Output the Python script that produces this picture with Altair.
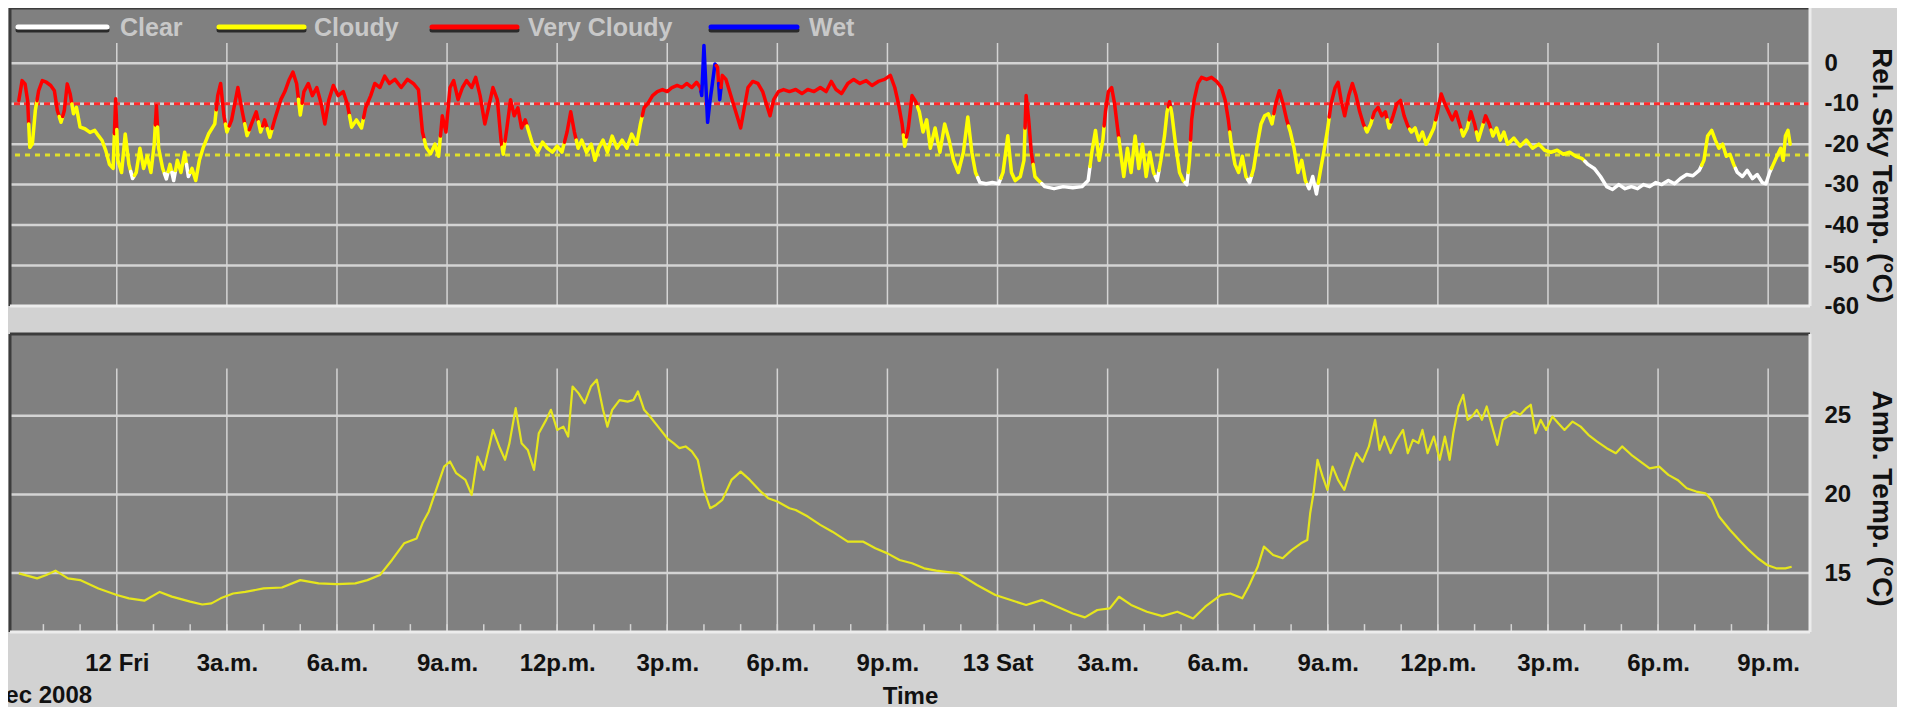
import altair as alt
import pandas as pd

# ---------------- axes, domains, labels ----------------
X_DOMAIN = [-2.91, 46.14]          # hours after 12 Dec 2008 00:00
X_TICKS = list(range(0, 46, 3))
X_TICK_LABELS = ["12 Fri", "3a.m.", "6a.m.", "9a.m.", "12p.m.", "3p.m.", "6p.m.", "9p.m.",
                 "13 Sat", "3a.m.", "6a.m.", "9a.m.", "12p.m.", "3p.m.", "6p.m.", "9p.m."]
MINOR_TICKS = list(range(-2, 46))
MONTH_LABEL = "Dec 2008"
X_TITLE = "Time"

SKY_DOMAIN = [-60, 13.65]
SKY_GRID_TOP = 5
SKY_TICKS = [0, -10, -20, -30, -40, -50, -60]
SKY_GRID = [0, -10, -20, -30, -40, -50]
SKY_TITLE = "Rel. Sky Temp. (°C)"

AMB_DOMAIN = [11.25, 30.2]
AMB_GRID_TOP = 28
AMB_TICKS = [15, 20, 25]
AMB_TITLE = "Amb. Temp. (°C)"

VERY_CLOUDY_LIMIT = -10
CLOUDY_LIMIT = -22.7

STATES = ["Clear", "Cloudy", "Very Cloudy", "Wet"]
STATE_CODES = {"C": "Clear", "Y": "Cloudy", "R": "Very Cloudy", "W": "Wet"}
STATE_COLORS = ["#ffffff", "#ffff00", "#ff0000", "#0000ff"]

# ---------------- sky temperature series ----------------
SKY_HOURS = [
    -2.67, -2.58, -2.50, -2.43, -2.37, -2.30, -2.22, -2.13, -2.03, -1.92,
    -1.80, -1.70, -1.62, -1.52, -1.43, -1.35, -1.27, -1.18, -1.10, -1.00,
    -0.87, -0.73, -0.60, -0.50, -0.40, -0.30, -0.20, -0.10, -0.03, 0.03,
    0.13, 0.23, 0.33, 0.43, 0.53, 0.63, 0.73, 0.83, 0.93, 1.02,
    1.08, 1.14, 1.25, 1.35, 1.45, 1.55, 1.65, 1.75, 1.85, 1.95,
    2.05, 2.15, 2.25, 2.35, 2.50, 2.67, 2.75, 2.83, 2.92, 3.00,
    3.13, 3.30, 3.42, 3.55, 3.67, 3.80, 3.92, 4.03, 4.17, 4.30,
    4.47, 4.58, 4.70, 4.80, 4.90, 5.00, 5.10, 5.22, 5.33, 5.45,
    5.57, 5.67, 5.78, 5.90, 6.03, 6.17, 6.28, 6.40, 6.53, 6.67,
    6.78, 6.92, 7.03, 7.17, 7.30, 7.43, 7.58, 7.75, 7.92, 8.08,
    8.22, 8.33, 8.43, 8.55, 8.67, 8.77, 8.87, 8.97, 9.08, 9.18,
    9.30, 9.42, 9.53, 9.67, 9.78, 9.90, 10.03, 10.13, 10.25, 10.37,
    10.47, 10.53, 10.63, 10.73, 10.83, 10.93, 11.03, 11.13, 11.23, 11.33,
    11.47, 11.60, 11.73, 11.87, 12.00, 12.13, 12.27, 12.37, 12.47, 12.57,
    12.67, 12.80, 12.93, 13.03, 13.13, 13.25, 13.37, 13.50, 13.63, 13.77,
    13.90, 14.03, 14.17, 14.27, 14.37, 14.47, 14.60, 14.73, 14.87, 15.00,
    15.13, 15.27, 15.40, 15.53, 15.67, 15.80, 15.90, 15.94, 16.00, 16.05,
    16.10, 16.17, 16.23, 16.30, 16.37, 16.43, 16.50, 16.60, 16.70, 16.80,
    16.90, 17.00, 17.10, 17.20, 17.33, 17.47, 17.60, 17.70, 17.80, 17.90,
    18.03, 18.17, 18.33, 18.50, 18.67, 18.83, 19.00, 19.17, 19.33, 19.47,
    19.60, 19.75, 19.92, 20.08, 20.25, 20.42, 20.58, 20.75, 20.92, 21.08,
    21.20, 21.30, 21.40, 21.47, 21.57, 21.67, 21.77, 21.87, 21.97, 22.07,
    22.17, 22.30, 22.43, 22.56, 22.68, 22.80, 22.93, 23.07, 23.19, 23.30,
    23.40, 23.52, 23.69, 23.86, 24.03, 24.15, 24.28, 24.38, 24.48, 24.62,
    24.72, 24.78, 24.85, 24.92, 25.02, 25.12, 25.29, 25.54, 25.79, 26.05,
    26.30, 26.47, 26.57, 26.67, 26.77, 26.87, 26.94, 27.02, 27.11, 27.19,
    27.27, 27.34, 27.44, 27.54, 27.64, 27.75, 27.85, 27.95, 28.05, 28.15,
    28.25, 28.35, 28.45, 28.55, 28.62, 28.69, 28.75, 28.85, 28.96, 29.06,
    29.16, 29.23, 29.29, 29.36, 29.46, 29.56, 29.70, 29.83, 29.97, 30.10,
    30.20, 30.29, 30.37, 30.47, 30.57, 30.67, 30.77, 30.87, 30.98, 31.08,
    31.18, 31.28, 31.38, 31.48, 31.58, 31.68, 31.78, 31.88, 31.98, 32.08,
    32.19, 32.29, 32.39, 32.49, 32.59, 32.69, 32.79, 32.89, 32.99, 33.09,
    33.20, 33.28, 33.36, 33.46, 33.57, 33.67, 33.77, 33.87, 33.97, 34.07,
    34.17, 34.27, 34.37, 34.47, 34.57, 34.67, 34.78, 34.88, 34.98, 35.08,
    35.18, 35.28, 35.38, 35.48, 35.58, 35.68, 35.79, 35.89, 35.99, 36.09,
    36.19, 36.29, 36.39, 36.49, 36.59, 36.69, 36.80, 36.90, 37.00, 37.10,
    37.20, 37.30, 37.40, 37.50, 37.60, 37.70, 37.80, 37.90, 38.07, 38.24,
    38.41, 38.58, 38.75, 38.91, 39.08, 39.25, 39.42, 39.59, 39.76, 39.92,
    40.09, 40.26, 40.43, 40.60, 40.76, 40.93, 41.10, 41.27, 41.44, 41.60,
    41.77, 41.94, 42.10, 42.28, 42.45, 42.61, 42.78, 42.95, 43.12, 43.25,
    43.35, 43.46, 43.56, 43.66, 43.76, 43.86, 43.96, 44.06, 44.16, 44.30,
    44.43, 44.57, 44.70, 44.84, 44.94, 45.04, 45.14, 45.24, 45.34, 45.41,
    45.47, 45.54, 45.60,
]
SKY_TEMPS = [
    -9.2, -4.3, -5.1, -9.2, -20.8, -19.9, -11.7, -6.8, -4.3, -4.7,
    -5.5, -6.8, -11.7, -14.6, -11.7, -5.1, -7.6, -12.5, -10.9, -15.8,
    -16.2, -17.1, -16.6, -17.9, -19.1, -21.6, -25.0, -26.0, -8.8, -24.0,
    -27.0, -17.5, -25.0, -28.5, -27.0, -21.0, -26.0, -23.0, -27.0, -20.0,
    -10.5, -21.0, -26.0, -28.6, -25.0, -29.0, -24.0, -27.0, -22.0, -28.0,
    -26.0, -29.0, -24.0, -21.0, -17.5, -15.0, -8.0, -5.0, -13.0, -17.0,
    -14.0, -6.0, -12.0, -17.9, -15.0, -12.0, -17.0, -14.0, -18.3, -14.0,
    -9.0, -7.0, -4.0, -2.2, -5.0, -12.8, -7.0, -5.0, -8.0, -6.0,
    -10.0, -15.0, -9.0, -5.5, -8.0, -7.0, -10.0, -15.8, -14.0, -16.0,
    -11.0, -8.0, -5.0, -6.0, -3.2, -5.0, -4.0, -6.0, -4.0, -5.0,
    -6.5, -17.0, -20.8, -22.4, -20.0, -23.0, -13.0, -17.0, -6.0, -4.3,
    -9.0, -6.0, -4.3, -6.0, -3.5, -8.0, -15.0, -11.0, -6.0, -9.0,
    -19.0, -22.5, -16.0, -9.0, -13.0, -11.0, -16.0, -14.0, -17.0, -20.0,
    -22.0, -19.5, -21.0, -22.0, -20.5, -22.0, -17.0, -12.0, -17.0, -21.0,
    -19.0, -22.0, -20.0, -24.0, -21.0, -19.0, -22.0, -18.0, -21.0, -19.0,
    -21.0, -17.5, -20.0, -15.0, -11.0, -10.0, -8.0, -7.0, -6.5, -7.0,
    -6.0, -5.5, -6.0, -5.0, -6.0, -4.7, -6.0, -8.0, 4.4, -5.0,
    -14.6, -9.0, -5.0, -0.2, -1.0, -9.0, -3.0, -4.0, -7.0, -10.0,
    -13.0, -16.0, -11.0, -6.0, -4.5, -5.0, -7.0, -10.0, -13.0, -9.0,
    -7.0, -6.5, -7.0, -6.5, -7.5, -6.5, -7.0, -6.0, -7.0, -4.5,
    -6.5, -7.5, -5.0, -4.0, -5.0, -4.3, -5.5, -4.5, -4.0, -3.0,
    -6.0, -10.0, -15.0, -20.5, -16.0, -8.0, -9.5, -12.0, -17.0, -14.0,
    -21.0, -16.0, -22.0, -15.0, -19.0, -24.0, -27.0, -22.0, -13.3, -22.0,
    -27.0, -29.5, -29.8, -29.5, -29.8, -27.0, -17.9, -27.0, -29.0, -28.0,
    -24.0, -8.0, -14.0, -22.0, -28.0, -29.0, -30.5, -31.0, -30.5, -30.8,
    -30.5, -29.0, -22.0, -16.6, -24.0, -19.0, -12.0, -7.0, -6.0, -10.0,
    -16.0, -21.0, -28.0, -21.0, -27.0, -18.0, -26.0, -20.0, -28.0, -22.0,
    -27.0, -29.0, -24.0, -18.0, -12.0, -9.5, -12.5, -20.0, -27.0, -29.0,
    -30.0, -24.0, -14.0, -9.0, -5.0, -3.5, -4.0, -3.5, -4.5, -6.0,
    -9.0, -14.0, -20.0, -25.0, -27.0, -23.0, -28.0, -29.5, -26.0, -20.0,
    -15.0, -13.0, -12.5, -15.0, -10.0, -6.8, -10.0, -14.0, -17.0, -21.0,
    -27.0, -24.0, -29.0, -31.0, -28.0, -32.3, -27.0, -22.0, -16.6, -10.0,
    -6.0, -4.7, -9.0, -13.0, -8.0, -5.0, -8.0, -12.0, -15.0, -17.0,
    -15.0, -12.0, -10.9, -13.0, -12.0, -16.0, -13.0, -10.0, -9.2, -13.0,
    -15.5, -17.0, -16.0, -19.0, -17.0, -20.0, -18.0, -16.0, -12.0, -7.6,
    -10.0, -12.0, -14.0, -12.0, -15.0, -18.0, -16.0, -12.0, -15.0, -19.0,
    -16.0, -13.0, -15.0, -18.0, -16.0, -19.0, -17.0, -20.0, -18.5, -20.5,
    -19.0, -21.0, -20.0, -21.5, -22.0, -21.5, -22.5, -22.0, -23.0, -23.5,
    -25.0, -26.0, -28.0, -30.5, -31.2, -30.0, -31.0, -30.5, -31.0, -30.0,
    -30.5, -29.5, -30.0, -29.0, -29.8, -28.5, -27.5, -27.8, -26.5, -24.0,
    -18.0, -16.6, -19.0, -21.0, -20.0, -23.0, -22.5, -25.0, -27.0, -28.0,
    -26.5, -28.5, -27.5, -29.5, -29.8, -27.0, -25.0, -23.0, -21.0, -24.0,
    -18.0, -16.6, -20.0,
]
SKY_STATE = list(
    "RRRRYYYRRR" "RRRYRRRYYY" "YYYYYYYYRY" "YYYCYYYYYY" "RYYCYCYYYC"
    "YYYYYYRRRY" "RRRYRRYRYR" "RRRRRYRRRR" "RRRRRRRYYY" "RRRRRRRRRR"
    "RRYYYYRRRR" "RRRRRRRRRR" "RYRRRRRRYY" "YYYYYYRRRY" "YYYYYYYYYY"
    "YYYYRRRRRR" "RRRRRRRWWW" "WWWWRWRRRR" "RRRRRRRRRR" "RRRRRRRRRR"
    "RRRRRRRRRR" "RRRYRRRYYY" "YYYYYYYYYY" "YCCCCYYYYY" "YRRRYYCCCC"
    "CCYYYYRRRR" "RYYYYYYYYY" "YCYYYRYYYY" "CYRRRRRRRR" "RRYYYYYCYY"
    "YYYYRRRRYY" "YYYCCCYYYR" "RRRRRRRRRY" "YRRRRYRRRR" "RYYYYYYYRR"
    "RRRRRYYRRY" "YRRYYYYYYY" "YYYYYYYYYY" "CCCCCCCCCC" "CCCCCCCCCY"
    "YYYYYYYYCC" "CCCCCCYYYY" "YYY"
)

# ---------------- ambient temperature series ----------------
AMB_HOURS = [
    -2.67, -2.17, -1.92, -1.67, -1.33, -1.00, -0.50, 0.00, 0.33, 0.75,
    1.17, 1.50, 2.00, 2.33, 2.58, 2.83, 3.17, 3.50, 4.00, 4.50,
    5.00, 5.50, 6.00, 6.50, 6.83, 7.17, 7.50, 7.83, 8.17, 8.33,
    8.50, 8.67, 8.92, 9.08, 9.25, 9.50, 9.67, 9.83, 10.00, 10.17,
    10.25, 10.42, 10.58, 10.70, 10.87, 11.03, 11.20, 11.37, 11.50, 11.70,
    11.83, 12.00, 12.17, 12.30, 12.42, 12.58, 12.75, 12.92, 13.08, 13.25,
    13.37, 13.50, 13.70, 13.92, 14.08, 14.20, 14.37, 14.53, 14.75, 15.00,
    15.17, 15.33, 15.50, 15.67, 15.83, 16.00, 16.17, 16.33, 16.50, 16.75,
    17.00, 17.25, 17.50, 17.75, 18.00, 18.33, 18.50, 18.83, 19.17, 19.50,
    19.92, 20.33, 20.67, 21.00, 21.33, 21.67, 22.00, 22.33, 22.93, 23.44,
    23.94, 24.36, 24.78, 25.20, 25.63, 26.05, 26.38, 26.72, 27.06, 27.31,
    27.64, 28.07, 28.49, 28.90, 29.33, 29.66, 30.08, 30.34, 30.67, 30.84,
    31.09, 31.26, 31.51, 31.77, 32.02, 32.27, 32.44, 32.52, 32.61, 32.72,
    32.86, 32.99, 33.13, 33.28, 33.45, 33.62, 33.78, 33.95, 34.12, 34.29,
    34.41, 34.54, 34.71, 34.88, 35.05, 35.18, 35.32, 35.47, 35.58, 35.72,
    35.89, 36.05, 36.19, 36.32, 36.42, 36.56, 36.69, 36.81, 36.93, 37.06,
    37.20, 37.33, 37.48, 37.62, 37.77, 37.90, 38.07, 38.24, 38.41, 38.53,
    38.66, 38.80, 38.95, 39.12, 39.28, 39.45, 39.67, 39.89, 40.10, 40.34,
    40.60, 40.85, 41.02, 41.27, 41.52, 41.77, 42.03, 42.28, 42.53, 42.78,
    43.04, 43.29, 43.46, 43.66, 43.96, 44.21, 44.47, 44.72, 44.97, 45.22,
    45.47, 45.64,
]
AMB_TEMPS = [
    14.98, 14.66, 14.87, 15.15, 14.66, 14.55, 14.02, 13.60, 13.39, 13.24,
    13.80, 13.50, 13.18, 13.00, 13.07, 13.39, 13.70, 13.80, 14.02, 14.08,
    14.55, 14.34, 14.30, 14.34, 14.55, 14.87, 15.83, 16.89, 17.20, 18.16,
    18.90, 20.07, 21.77, 22.09, 21.35, 20.92, 19.97, 22.40, 21.56, 23.26,
    24.10, 23.05, 22.20, 23.26, 25.49, 23.26, 22.83, 21.56, 23.89, 24.74,
    25.38, 24.10, 24.31, 23.68, 26.86, 26.44, 25.80, 26.86, 27.29, 25.38,
    24.31, 25.38, 26.00, 25.90, 26.00, 26.55, 25.38, 24.95, 24.31, 23.57,
    23.26, 22.94, 23.05, 22.73, 22.20, 20.29, 19.12, 19.33, 19.65, 20.92,
    21.45, 20.92, 20.29, 19.76, 19.55, 19.12, 19.01, 18.59, 18.06, 17.63,
    17.00, 17.00, 16.57, 16.25, 15.83, 15.62, 15.30, 15.15, 14.98, 14.24,
    13.60, 13.28, 12.97, 13.28, 12.86, 12.43, 12.18, 12.65, 12.75, 13.49,
    12.97, 12.54, 12.26, 12.54, 12.11, 12.86, 13.60, 13.70, 13.39, 14.13,
    15.40, 16.68, 16.15, 15.94, 16.47, 16.89, 17.10, 18.80, 20.07, 22.20,
    21.13, 20.29, 21.77, 20.92, 20.29, 21.56, 22.62, 22.09, 23.05, 24.74,
    22.83, 23.68, 22.62, 23.47, 24.10, 22.62, 23.47, 23.26, 24.10, 22.62,
    23.68, 22.20, 23.68, 22.20, 23.89, 25.59, 26.33, 24.74, 24.95, 25.38,
    24.74, 25.59, 24.31, 23.15, 24.74, 24.95, 25.27, 25.06, 25.49, 25.70,
    23.89, 24.74, 24.10, 24.95, 24.52, 24.10, 24.63, 24.31, 23.79, 23.36,
    22.94, 22.62, 23.05, 22.52, 22.09, 21.66, 21.77, 21.24, 20.92, 20.39,
    20.18, 20.07, 19.65, 18.59, 17.74, 17.10, 16.47, 15.94, 15.51, 15.30,
    15.30, 15.40,
]

assert len(SKY_HOURS) == len(SKY_TEMPS) == len(SKY_STATE)
assert len(AMB_HOURS) == len(AMB_TEMPS)

# ---------------- styling / layout ----------------
PAGE_BG = "#d2d2d2"
PANEL_BG = "#808080"
GRID = "#d4d4d4"
DARK_EDGE = "#3c3c3c"
LIGHT_EDGE = "#ececec"
TEXT = "#111111"
LEGEND_TEXT = "#c8c8c8"
FONT = "Liberation Sans"

PLOT_W = 1800
PANEL_H = 298
GAP = 28
TOTAL_H = 2 * PANEL_H + GAP

# legend layout (pixels inside the plot area)
LEGEND_Y = 19
LEGEND_SYMBOL_START = [8, 209, 422, 701]
LEGEND_SYMBOL_LENGTH = [89, 85, 85, 86]
LEGEND_LABEL_START = [110, 304, 518, 799]

# ---------------- tables built from the lists ----------------
sky_rows = []
seg = 0
for i in range(len(SKY_HOURS)):
    h, v, code = SKY_HOURS[i], SKY_TEMPS[i], SKY_STATE[i]
    if i > 0 and code != SKY_STATE[i - 1]:
        mh = (SKY_HOURS[i - 1] + h) / 2
        mv = (SKY_TEMPS[i - 1] + v) / 2
        sky_rows.append({"h": mh, "v": mv, "state": STATE_CODES[SKY_STATE[i - 1]], "seg": seg})
        seg += 1
        sky_rows.append({"h": mh, "v": mv, "state": STATE_CODES[code], "seg": seg})
    sky_rows.append({"h": h, "v": v, "state": STATE_CODES[code], "seg": seg})
sky_df = pd.DataFrame(sky_rows)
sky_df["i"] = range(len(sky_df))

amb_df = pd.DataFrame({"h": AMB_HOURS, "v": AMB_TEMPS})

legend_df = pd.DataFrame({
    "state": STATES,
    "x": LEGEND_SYMBOL_START,
    "x2": [s + n for s, n in zip(LEGEND_SYMBOL_START, LEGEND_SYMBOL_LENGTH)],
    "tx": LEGEND_LABEL_START,
})

# ---------------- scales & axes ----------------
label_array = "[" + ",".join("'" + s + "'" for s in X_TICK_LABELS) + "]"
X_SCALE = alt.Scale(domain=X_DOMAIN, nice=False, zero=False)
X_AXIS = alt.Axis(values=X_TICKS, labelExpr=label_array + "[round(datum.value / 3)]",
                  labelFont=FONT, labelFontSize=24, labelFontWeight="bold", labelColor=TEXT,
                  labelPadding=19, labelOverlap=False, labelFlush=False,
                  ticks=False, tickSize=0, domain=False, grid=False,
                  title=X_TITLE, titleFont=FONT, titleFontSize=24, titleFontWeight="bold",
                  titleColor=TEXT, titleY=52, titleBaseline="top")

SKY_SCALE = alt.Scale(domain=SKY_DOMAIN, range=[PANEL_H, 0], nice=False, zero=False)
SKY_AXIS = alt.Axis(orient="right", values=SKY_TICKS,
                    labelExpr="datum.value < 0 ? '-' + (-datum.value) : '' + datum.value",
                    labelFont=FONT, labelFontSize=24, labelFontWeight="bold", labelColor=TEXT,
                    labelAlign="left", labelBaseline="middle", labelPadding=14, labelOverlap=False,
                    ticks=False, tickSize=0, domain=False, grid=False,
                    title=SKY_TITLE, titleFont=FONT, titleFontSize=28, titleFontWeight="bold",
                    titleColor=TEXT, titleAngle=90, titleX=70, titleY=167,
                    titleAlign="center", titleBaseline="middle")

AMB_SCALE = alt.Scale(domain=AMB_DOMAIN, range=[TOTAL_H, PANEL_H + GAP], nice=False, zero=False)
AMB_AXIS = alt.Axis(orient="right", values=AMB_TICKS,
                    labelFont=FONT, labelFontSize=24, labelFontWeight="bold", labelColor=TEXT,
                    labelAlign="left", labelBaseline="middle", labelPadding=14, labelOverlap=False,
                    ticks=False, tickSize=0, domain=False, grid=False,
                    title=AMB_TITLE, titleFont=FONT, titleFontSize=28, titleFontWeight="bold",
                    titleColor=TEXT, titleAngle=90, titleX=70, titleY=490,
                    titleAlign="center", titleBaseline="middle")

STATE_SCALE = alt.Scale(domain=STATES, range=STATE_COLORS)


def xq(field):
    return alt.X(field, type="quantitative", scale=X_SCALE, axis=X_AXIS)


def ysky(field):
    return alt.Y(field, type="quantitative", scale=SKY_SCALE, axis=SKY_AXIS)


def yamb(field):
    return alt.Y(field, type="quantitative", scale=AMB_SCALE, axis=AMB_AXIS)


def panel_layers(domain, grid_values, grid_top, yenc):
    x0, x1 = X_DOMAIN
    y0, y1 = domain
    bg = alt.Chart(pd.DataFrame({"x": [x0], "x2": [x1], "y": [y0], "y2": [y1]})).mark_rect(
        color=PANEL_BG).encode(x=xq("x"), x2="x2", y=yenc("y"), y2="y2")
    hgrid = alt.Chart(pd.DataFrame({"v": grid_values})).mark_rule(
        color=GRID, strokeWidth=2.5).encode(y=yenc("v"))
    vgrid = alt.Chart(pd.DataFrame({"h": X_TICKS, "y": [grid_top] * len(X_TICKS),
                                    "y2": [y0] * len(X_TICKS)})).mark_rule(
        color=GRID, strokeWidth=1.5).encode(x=xq("h"), y=yenc("y"), y2="y2")
    dark = alt.Chart(pd.DataFrame({"x": [x0, x0], "x2": [x1, x0], "y": [y1, y0], "y2": [y1, y1]})).mark_rule(
        color=DARK_EDGE, strokeWidth=3).encode(x=xq("x"), x2="x2", y=yenc("y"), y2="y2")
    light = alt.Chart(pd.DataFrame({"x": [x0, x1], "x2": [x1, x1], "y": [y0, y0], "y2": [y0, y1]})).mark_rule(
        color=LIGHT_EDGE, strokeWidth=3).encode(x=xq("x"), x2="x2", y=yenc("y"), y2="y2")
    return bg, hgrid, vgrid, dark, light


# ---------------- top panel ----------------
t_bg, t_hgrid, t_vgrid, t_dark, t_light = panel_layers(SKY_DOMAIN, SKY_GRID, SKY_GRID_TOP, ysky)

red_limit = alt.Chart(pd.DataFrame({"v": [VERY_CLOUDY_LIMIT]})).mark_rule(
    color="#ff2a2a", strokeWidth=3, strokeDash=[6, 4]).encode(y=ysky("v"))
yellow_limit = alt.Chart(pd.DataFrame({"v": [CLOUDY_LIMIT]})).mark_rule(
    color="#dede2a", strokeWidth=3, strokeDash=[5, 5]).encode(y=ysky("v"))

sky_line = alt.Chart(sky_df).mark_line(strokeWidth=3.5, strokeJoin="round", strokeCap="round").encode(
    x=xq("h"),
    y=ysky("v"),
    detail="seg:N",
    order="i:Q",
    color=alt.Color("state:N", scale=STATE_SCALE, legend=None),
)

# legend drawn inside the panel, as in the original
legend_shadow = alt.Chart(legend_df).mark_rule(color="#2a2a2a", strokeWidth=5, strokeCap="round").encode(
    x=alt.X("x:Q", scale=None, axis=None), x2="x2", y=alt.value(LEGEND_Y + 3))
legend_symbol = alt.Chart(legend_df).mark_rule(strokeWidth=5, strokeCap="round").encode(
    x=alt.X("x:Q", scale=None, axis=None), x2="x2", y=alt.value(LEGEND_Y),
    color=alt.Color("state:N", scale=STATE_SCALE, legend=None))
legend_label = alt.Chart(legend_df).mark_text(
    align="left", baseline="middle", font=FONT, fontSize=25, fontWeight="bold", color=LEGEND_TEXT).encode(
    x=alt.X("tx:Q", scale=None, axis=None), y=alt.value(LEGEND_Y + 1), text="state:N")

top = alt.layer(t_bg, t_vgrid, t_hgrid, red_limit, yellow_limit, sky_line, t_dark, t_light,
                legend_shadow, legend_symbol, legend_label)

# ---------------- bottom panel ----------------
b_bg, b_hgrid, b_vgrid, b_dark, b_light = panel_layers(AMB_DOMAIN, AMB_TICKS, AMB_GRID_TOP, yamb)

minor = alt.Chart(pd.DataFrame({"h": MINOR_TICKS, "y": [AMB_DOMAIN[0]] * len(MINOR_TICKS),
                                "y2": [AMB_DOMAIN[0] + 0.5] * len(MINOR_TICKS)})).mark_rule(
    color=GRID, strokeWidth=1.5).encode(x=xq("h"), y=yamb("y"), y2="y2")

amb_line = alt.Chart(amb_df).mark_line(color="#e6e61c", strokeWidth=2.2, strokeJoin="round").encode(
    x=xq("h"), y=yamb("v"))

bottom = alt.layer(b_bg, b_vgrid, b_hgrid, minor, amb_line, b_dark, b_light)

month = alt.Chart(pd.DataFrame({"t": [MONTH_LABEL]})).mark_text(
    align="left", baseline="top", font=FONT, fontSize=24, fontWeight="bold", color=TEXT).encode(
    text="t:N", x=alt.value(-22), y=alt.value(676))

chart = alt.layer(top, bottom, month).resolve_scale(y="independent").properties(
    width=PLOT_W, height=TOTAL_H,
    padding={"left": 2, "top": 0, "right": 87, "bottom": 75},
    autosize=alt.AutoSizeParams(type="none"),
    background=PAGE_BG,
).configure(font=FONT).configure_view(stroke="transparent")

chart.save("out.html", embed_options={"renderer": "svg", "actions": False})
